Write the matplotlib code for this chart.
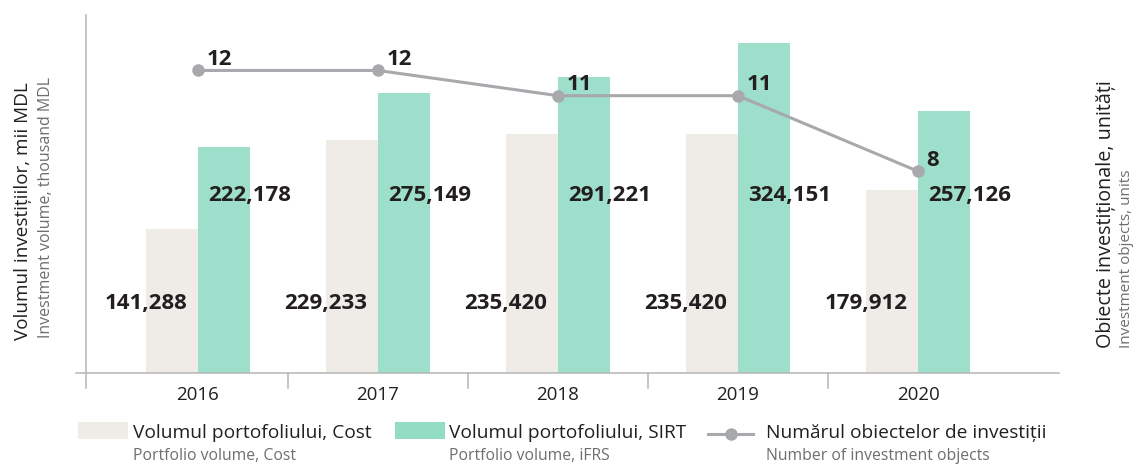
import matplotlib
matplotlib.use("Agg")
import matplotlib.pyplot as plt
import numpy as np
from matplotlib.patches import Rectangle
from matplotlib.lines import Line2D

# data
years = ["2016", "2017", "2018", "2019", "2020"]
cost = [141288, 229233, 235420, 235420, 179912]
sirt = [222178, 275149, 291221, 324151, 257126]
objects = [12, 12, 11, 11, 8]

cost_name = ("Volumul portofoliului, Cost", "Portfolio volume, Cost")
sirt_name = ("Volumul portofoliului, SIRT", "Portfolio volume, iFRS")
obj_name = ("Numărul obiectelor de investiții", "Number of investment objects")
left_title = ("Volumul investițiilor, mii MDL", "Investment volume, thousand MDL")
right_title = ("Obiecte investiționale, unități", "Investment objects, units")

COST = "#efebe7"
SIRT = "#9ddfca"
SIRT_LEG = "#93dcc4"
GREY = "#a7a9ac"
AXIS = "#b5b5b5"
DARK = "#231f20"
SUB = "#6d6e71"

plt.rcParams['font.family'] = ['Open Sans', 'DejaVu Sans']

W, H = 1134, 465
fig = plt.figure(figsize=(W / 100, H / 100), dpi=100)


def fx(px):
    return px / W


def fy(py):
    return 1 - py / H


ax = fig.add_axes([fx(86), fy(373), (1059 - 86) / W, (373 - 15) / H])
x = np.arange(len(years))
w = 52 / 180

ax.bar(x - w / 2, cost, w, color=COST, zorder=1)
ax.bar(x + w / 2, sirt, w, color=SIRT, zorder=1)
ax.set_xlim(-0.622, 4.783)
ax.set_ylim(0, 352000)

for xi, v in zip(x, cost):
    ax.text(xi - w, 68000, f"{v:,}", ha="center", va="center",
            fontsize=16, fontweight="bold", color=DARK, zorder=5)
for xi, v in zip(x, sirt):
    ax.text(xi + w, 175000, f"{v:,}", ha="center", va="center",
            fontsize=16, fontweight="bold", color=DARK, zorder=5)

for s in ax.spines.values():
    s.set_visible(False)
ax.set_yticks([])
ax.set_xticks(x, years)
ax.tick_params(axis="x", length=0, pad=9, labelsize=13.5, labelcolor=DARK)

# axis lines drawn by hand so they can run past the corner
ax.plot([0, 0], [-15 / 358, 1], transform=ax.transAxes, color=AXIS, lw=1.1, clip_on=False)
ax.plot([-10 / 973, 1], [0, 0], transform=ax.transAxes, color=AXIS, lw=1.1, clip_on=False)
for b in x[:-1] + 0.5:
    ax.plot([b, b], [0, -15 * 352000 / 358], color=AXIS, lw=1.1, clip_on=False)

ax2 = ax.twinx()
ax2.set_ylim(0, 14.2)
ax2.plot(x, objects, color=GREY, lw=2.2, marker="o", ms=8, zorder=3)
for xi, v in zip(x, objects):
    ax2.annotate(str(v), (xi, v), xytext=(6, 8), textcoords="offset points",
                 ha="left", va="center", fontsize=16, fontweight="bold", color=DARK)
for s in ax2.spines.values():
    s.set_visible(False)
ax2.set_yticks([])

# axis titles
fig.text(fx(23), fy(340), left_title[0], rotation=90, ha="center", va="bottom",
         fontsize=13.6, color=DARK)
fig.text(fx(46), fy(338), left_title[1], rotation=90, ha="center", va="bottom",
         fontsize=11.5, color=SUB)
fig.text(fx(1106), fy(348), right_title[0], rotation=90, ha="center", va="bottom",
         fontsize=14.2, color=DARK)
fig.text(fx(1126), fy(348), right_title[1], rotation=90, ha="center", va="bottom",
         fontsize=11, color=SUB)

# legend
fig.add_artist(Rectangle((fx(78), fy(439)), 50 / W, 17 / H, transform=fig.transFigure,
                         color=COST, lw=0))
fig.add_artist(Rectangle((fx(395), fy(439)), 50 / W, 17 / H, transform=fig.transFigure,
                         color=SIRT_LEG, lw=0))
fig.add_artist(Line2D([fx(708), fx(753)], [fy(434), fy(434)], transform=fig.transFigure,
                      color=GREY, lw=2.2))
fig.add_artist(Line2D([fx(731)], [fy(434)], transform=fig.transFigure,
                      color=GREY, marker="o", ms=8, lw=0))
for px, (main, sub) in zip([133, 449, 766], [cost_name, sirt_name, obj_name]):
    fig.text(fx(px), fy(433), main, ha="left", va="center", fontsize=13.8, color=DARK)
    fig.text(fx(px), fy(456), sub, ha="left", va="center", fontsize=11.3, color=SUB)

fig.savefig("out.png", dpi=100)
